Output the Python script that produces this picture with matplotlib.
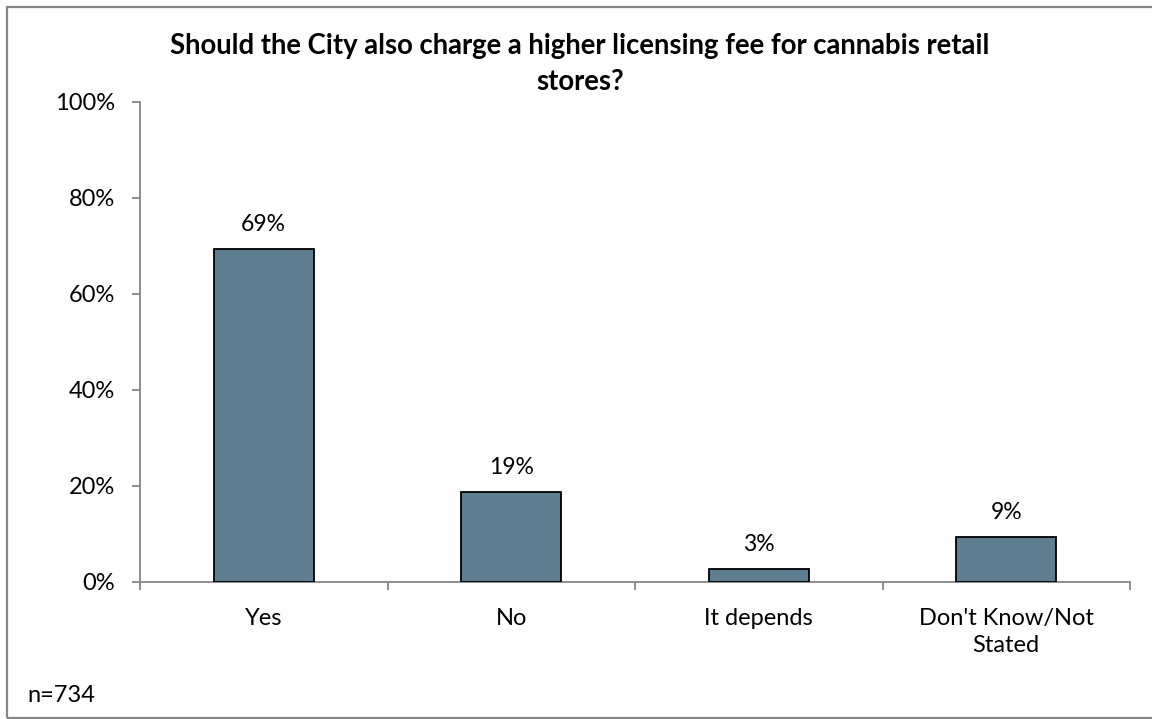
import matplotlib.pyplot as plt
from matplotlib.patches import Rectangle
from matplotlib.ticker import FixedLocator, PercentFormatter

# Survey responses
categories = ['Yes', 'No', 'It depends', "Don't Know/Not\nStated"]
shares = [69.4, 18.8, 2.7, 9.4]
value_labels = ['69%', '19%', '3%', '9%']
title = 'Should the City also charge a higher licensing fee for cannabis retail\nstores?'
sample_note = 'n=734'

plt.rcParams['font.family'] = ['Lato', 'DejaVu Sans']

W, H = 1152, 719
fig = plt.figure(figsize=(W / 100, H / 100), dpi=100)

ax = fig.add_axes([140 / W, 1 - 582 / H, 990 / W, 480 / H])

bar_color = '#607e91'
axis_grey = '#868686'

x = range(len(categories))
ax.bar(x, shares, width=0.404, color=bar_color, edgecolor='black', linewidth=1.3, zorder=3)

for xi, v, lab in zip(x, shares, value_labels):
    ax.annotate(lab, (xi, v), xytext=(0, 14), textcoords='offset pixels',
                ha='center', va='bottom', fontsize=16.5)

ax.set_xlim(-0.5, len(categories) - 0.5)
ax.set_ylim(0, 100)
ax.set_yticks(range(0, 101, 20))
ax.yaxis.set_major_formatter(PercentFormatter(decimals=0))

ax.set_xticks(list(x))
ax.set_xticklabels(categories, fontsize=17, linespacing=1.4)
ax.xaxis.set_minor_locator(FixedLocator([i - 0.5 for i in range(len(categories) + 1)]))
ax.tick_params(axis='x', which='major', length=0, pad=18.5)
ax.tick_params(axis='x', which='minor', length=6, width=1.3, color=axis_grey, direction='out')
ax.tick_params(axis='y', length=6, width=1.3, color=axis_grey, pad=12, labelsize=17)

for side in ['top', 'right']:
    ax.spines[side].set_visible(False)
for side in ['left', 'bottom']:
    ax.spines[side].set_color(axis_grey)
    ax.spines[side].set_linewidth(1.3)

fig.text(580 / W, 1 - 33 / H, title, ha='center', va='top', fontsize=19.8,
         fontweight='bold', linespacing=1.48)
fig.text(27 / W, 1 - 702 / H, sample_note, ha='left', va='baseline', fontsize=17)

# outer border of the chart area
fig.patches.append(Rectangle((7 / W, 1 / H), 1.1, 1 - 8 / H, transform=fig.transFigure,
                             fill=False, edgecolor=axis_grey, linewidth=1.6))

fig.savefig('out.png', dpi=100)
